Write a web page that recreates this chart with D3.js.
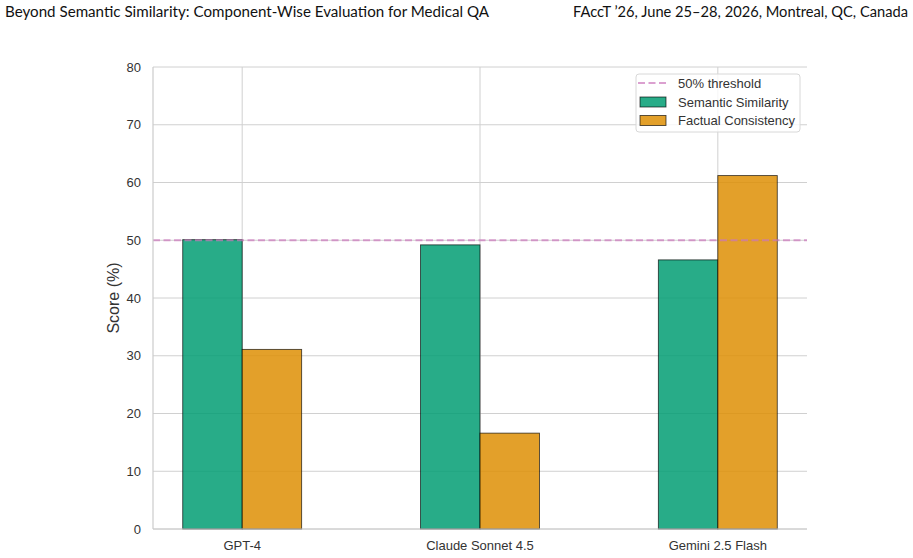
<!DOCTYPE html>
<html><head><meta charset="utf-8">
<script src="https://cdn.jsdelivr.net/npm/d3@7"></script>
<style>body{margin:0;background:#fff}svg{display:block}</style>
</head><body>
<svg id="c" width="913" height="558"></svg>
<script>
const categories = ["GPT-4", "Claude Sonnet 4.5", "Gemini 2.5 Flash"];
const semantic = [50.1, 49.2, 46.6];
const factual = [31.1, 16.6, 61.2];
const yTicks = [0, 10, 20, 30, 40, 50, 60, 70, 80];
const threshold = 50;
const seriesNames = ["Semantic Similarity", "Factual Consistency"];

(function () {
const svg = d3.select("#c");
const pL = 153, pR = 807, pT = 67, pB = 529;
const barW = 0.25;
const x = d3.scaleLinear().domain([-0.375, categories.length - 1 + 0.375]).range([pL, pR]);
const y = d3.scaleLinear().domain([0, 80]).range([pB, pT]);

// header
const hf = "Lato, Noto Sans, sans-serif";
svg.append("text").attr("x", 5).attr("y", 17).attr("font-family", hf)
  .attr("font-size", 14.5).attr("fill", "#111").attr("textLength", 484).attr("lengthAdjust", "spacingAndGlyphs")
  .text("Beyond Semantic Similarity: Component-Wise Evaluation for Medical QA");
svg.append("text").attr("x", 573).attr("y", 17).attr("font-family", hf)
  .attr("font-size", 14.5).attr("fill", "#111").attr("textLength", 335).attr("lengthAdjust", "spacingAndGlyphs")
  .text("FAccT ’26, June 25–28, 2026, Montreal, QC, Canada");

const font = "Liberation Sans, Arial, sans-serif";
// grid
const g = svg.append("g");
g.selectAll(".hg").data(yTicks).enter().append("line")
  .attr("x1", pL).attr("x2", pR).attr("y1", d => y(d)).attr("y2", d => y(d))
  .attr("stroke", "#d0d0d0").attr("stroke-width", 1);
g.selectAll(".vg").data(categories).enter().append("line")
  .attr("x1", (d, i) => x(i)).attr("x2", (d, i) => x(i)).attr("y1", pT).attr("y2", pB)
  .attr("stroke", "#d0d0d0").attr("stroke-width", 1);

// bars
const colors = ["#029e73", "#de8f05"];
const series = [semantic, factual];
series.forEach((vals, s) => {
  svg.append("g").selectAll("rect").data(vals).enter().append("rect")
    .attr("x", (d, i) => x(i + (s === 0 ? -barW : 0)))
    .attr("width", x(barW) - x(0))
    .attr("y", d => y(d)).attr("height", d => y(0) - y(d))
    .attr("fill", colors[s]).attr("fill-opacity", 0.85)
    .attr("stroke", "#000").attr("stroke-opacity", 0.7).attr("stroke-width", 0.9);
});

// threshold
svg.append("line").attr("x1", pL).attr("x2", pR).attr("y1", y(threshold)).attr("y2", y(threshold))
  .attr("stroke", "#cc78bc").attr("stroke-opacity", 0.7).attr("stroke-width", 2).attr("stroke-dasharray", "7,3.5");

// spines
svg.append("line").attr("x1", pL).attr("x2", pL).attr("y1", pT).attr("y2", pB).attr("stroke", "#cccccc").attr("stroke-width", 1.2);
svg.append("line").attr("x1", pL).attr("x2", pR).attr("y1", pB).attr("y2", pB).attr("stroke", "#cccccc").attr("stroke-width", 1.2);

// axes labels
svg.append("g").selectAll("text").data(yTicks).enter().append("text")
  .attr("x", 141).attr("y", d => y(d)).attr("dy", "0.35em").attr("text-anchor", "end")
  .attr("font-family", font).attr("font-size", 13).attr("fill", "#333").text(d => d);
svg.append("g").selectAll("text").data(categories).enter().append("text")
  .attr("x", (d, i) => x(i)).attr("y", 550).attr("text-anchor", "middle")
  .attr("font-family", font).attr("font-size", 13).attr("fill", "#333").text(d => d);
svg.append("text").attr("transform", `translate(119,${(pT + pB) / 2}) rotate(-90)`)
  .attr("text-anchor", "middle").attr("font-family", font).attr("font-size", 16).attr("fill", "#333").text("Score (%)");

// legend
const lg = svg.append("g");
lg.append("rect").attr("x", 636).attr("y", 74).attr("width", 164).attr("height", 58).attr("rx", 3)
  .attr("fill", "#fff").attr("fill-opacity", 0.8).attr("stroke", "#d8d8d8");
lg.append("line").attr("x1", 638).attr("x2", 666).attr("y1", 83).attr("y2", 83)
  .attr("stroke", "#cc78bc").attr("stroke-opacity", 0.7).attr("stroke-width", 2).attr("stroke-dasharray", "7,3.5");
lg.append("text").attr("x", 678).attr("y", 83).attr("dy", "0.35em").attr("font-family", font).attr("font-size", 13).attr("fill", "#333").text("50% threshold");
seriesNames.forEach((n, s) => {
  const cy = 102 + s * 18.5;
  lg.append("rect").attr("x", 640).attr("y", cy - 5).attr("width", 26).attr("height", 10)
    .attr("fill", colors[s]).attr("fill-opacity", 0.85).attr("stroke", "#000").attr("stroke-opacity", 0.7).attr("stroke-width", 0.9);
  lg.append("text").attr("x", 678).attr("y", cy).attr("dy", "0.35em").attr("font-family", font).attr("font-size", 13).attr("fill", "#333").text(n);
});
})();
</script>
</body></html>
